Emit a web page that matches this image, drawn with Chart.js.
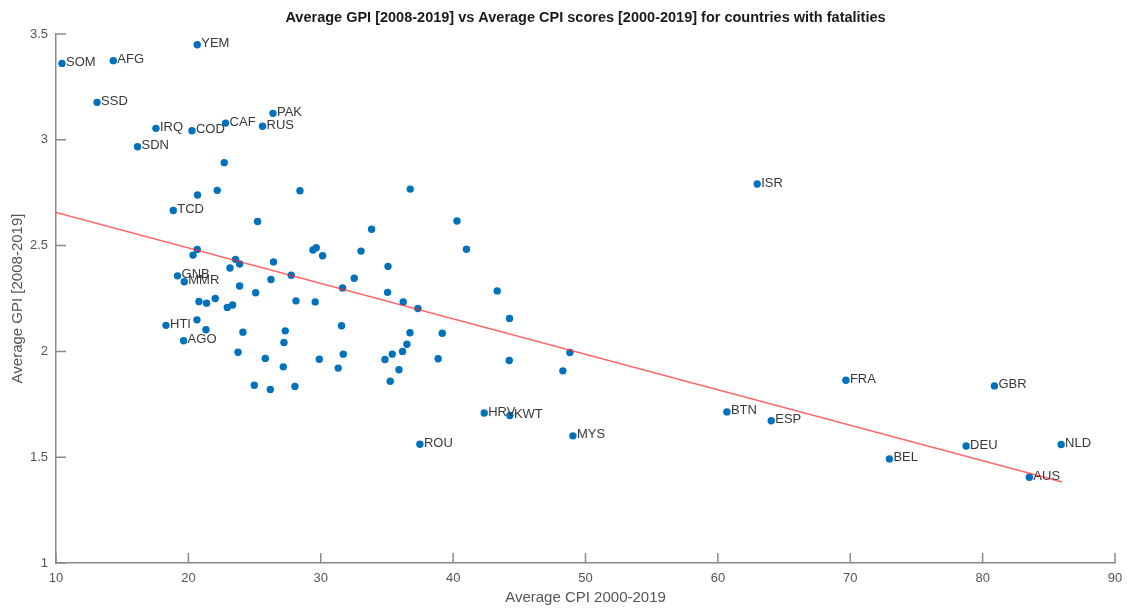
<!DOCTYPE html>
<html>
<head>
<meta charset="utf-8">
<script src="https://cdn.jsdelivr.net/npm/chart.js@4/dist/chart.umd.min.js"></script>
<style>
  html, body { margin: 0; padding: 0; background: #ffffff; }
  #wrap { width: 1127px; height: 608px; }
</style>
</head>
<body>
<div id="wrap"><canvas id="c" width="1127" height="608"></canvas></div>
<script>
// ---- Data ----
const chartTitle = 'Average GPI [2008-2019] vs Average CPI scores [2000-2019] for countries with fatalities';
const xAxisTitle = 'Average CPI 2000-2019';
const yAxisTitle = 'Average GPI [2008-2019]';

const xTickValues = [10, 20, 30, 40, 50, 60, 70, 80, 90];
const xTickLabels = ['10', '20', '30', '40', '50', '60', '70', '80', '90'];
const yTickValues = [1, 1.5, 2, 2.5, 3, 3.5];
const yTickLabels = ['1', '1.5', '2', '2.5', '3', '3.5'];

// Labelled countries
const countryCodes = ['SOM','AFG','YEM','SSD','IRQ','COD','CAF','PAK','RUS','SDN','TCD','GNB','MMR','HTI','AGO',
                      'ISR','ROU','HRV','KWT','MYS','BTN','ESP','FRA','GBR','DEU','BEL','NLD','AUS'];
const labeledCPI = [10.45, 14.33, 20.67, 13.10, 17.55, 20.27, 22.81, 26.39, 25.60, 16.16, 18.86, 19.18, 19.69, 18.31, 19.64,
                    62.97, 37.49, 42.35, 44.29, 49.05, 60.68, 64.03, 69.67, 80.89, 78.75, 72.96, 85.93, 83.53];
const labeledGPI = [3.361, 3.374, 3.449, 3.177, 3.054, 3.043, 3.079, 3.125, 3.064, 2.967, 2.666, 2.357, 2.329, 2.123, 2.050,
                    2.791, 1.561, 1.709, 1.697, 1.601, 1.714, 1.672, 1.864, 1.837, 1.553, 1.492, 1.560, 1.405];

// Unlabelled countries
const otherCPI = [22.71, 22.18, 20.69, 28.43, 36.76, 25.23, 33.84, 20.67, 20.35, 29.41, 29.66, 30.14, 33.04, 23.56, 23.87,
                  26.43, 23.14, 35.08, 26.24, 27.77, 32.53, 23.87, 25.08, 31.65, 35.05, 36.23, 37.34, 20.80, 21.37, 22.03,
                  22.94, 23.34, 28.13, 29.58, 20.65, 21.33, 24.12, 27.32, 27.22, 31.57, 36.74, 39.18, 36.51, 36.18, 35.40,
                  34.85, 38.87, 23.75, 25.81, 29.89, 31.70, 27.17, 31.32, 35.91, 24.98, 26.19, 28.05, 35.25, 40.29, 41.01,
                  43.33, 44.26, 44.24, 48.82, 48.29];
const otherGPI = [2.892, 2.761, 2.739, 2.759, 2.767, 2.614, 2.577, 2.482, 2.455, 2.479, 2.490, 2.452, 2.474, 2.435, 2.413,
                  2.423, 2.394, 2.402, 2.340, 2.360, 2.346, 2.309, 2.277, 2.300, 2.279, 2.234, 2.203, 2.236, 2.228, 2.250,
                  2.208, 2.219, 2.239, 2.234, 2.149, 2.102, 2.091, 2.097, 2.042, 2.121, 2.088, 2.086, 2.034, 2.000, 1.987,
                  1.962, 1.965, 1.996, 1.967, 1.963, 1.987, 1.927, 1.921, 1.913, 1.840, 1.820, 1.834, 1.859, 2.616, 2.483,
                  2.286, 2.156, 1.957, 1.995, 1.908];

// Fitted trend line end points
const trendCPI = [10, 86];
const trendGPI = [2.657, 1.383];

// ---- Build datasets ----
const toXY = (xs, ys) => xs.map((x, i) => ({ x: x, y: ys[i] }));
const FONT = '"Liberation Sans", Arial, Helvetica, sans-serif';
const BLUE = '#0072BD';

const labelPlugin = {
  id: 'pointLabels',
  afterDatasetsDraw(chart) {
    const ctx = chart.ctx;
    const xs = chart.scales.x, ys = chart.scales.y;
    ctx.save();
    ctx.font = '13px ' + FONT;
    ctx.fillStyle = '#383838';
    ctx.textAlign = 'left';
    ctx.textBaseline = 'middle';
    countryCodes.forEach((code, i) => {
      const px = xs.getPixelForValue(labeledCPI[i]);
      const py = ys.getPixelForValue(labeledGPI[i]);
      ctx.fillText(code, px + 4, py - 1);
    });
    ctx.restore();
  }
};

const framePlugin = {
  id: 'frameTicks',
  afterDraw(chart) {
    const ctx = chart.ctx;
    const xs = chart.scales.x, ys = chart.scales.y;
    const a = chart.chartArea;
    ctx.save();
    ctx.strokeStyle = '#8a8a8a';
    ctx.lineWidth = 1.5;
    ctx.beginPath();
    xTickValues.forEach(v => {
      const px = xs.getPixelForValue(v);
      ctx.moveTo(px, a.bottom);
      ctx.lineTo(px, a.bottom - 10);
    });
    yTickValues.forEach(v => {
      const py = ys.getPixelForValue(v);
      ctx.moveTo(a.left, py);
      ctx.lineTo(a.left + 10, py);
    });
    ctx.stroke();
    // title centred over the plot area
    ctx.font = 'bold 14.5px ' + FONT;
    ctx.fillStyle = '#1a1a1a';
    ctx.textAlign = 'center';
    ctx.textBaseline = 'middle';
    ctx.fillText(chartTitle, (a.left + a.right) / 2, 18);
    ctx.restore();
  }
};

new Chart(document.getElementById('c'), {
  type: 'scatter',
  data: {
    datasets: [
      {
        type: 'line',
        data: toXY(trendCPI, trendGPI),
        borderColor: 'rgba(255, 40, 40, 0.7)',
        borderWidth: 1.5,
        pointRadius: 0,
        showLine: true,
        fill: false,
        order: 0
      },
      {
        data: toXY(labeledCPI, labeledGPI),
        backgroundColor: BLUE,
        borderColor: BLUE,
        pointRadius: 3.7,
        borderWidth: 0,
        order: 1
      },
      {
        data: toXY(otherCPI, otherGPI),
        backgroundColor: BLUE,
        borderColor: BLUE,
        pointRadius: 3.7,
        borderWidth: 0,
        order: 1
      }
    ]
  },
  options: {
    responsive: false,
    animation: false,
    devicePixelRatio: 1,
    layout: { padding: { top: 34, right: 12, left: 0, bottom: 0 } },
    plugins: {
      legend: { display: false },
      tooltip: { enabled: false },
      title: { display: false }
    },
    scales: {
      x: {
        type: 'linear',
        min: 10, max: 90,
        afterFit(scale) { scale.height = 45; scale.paddingLeft = 0; scale.paddingRight = 0; },
        afterBuildTicks(scale) { scale.ticks = xTickValues.map(v => ({ value: v })); },
        grid: { display: false, drawTicks: false },
        border: { display: true, color: '#8a8a8a', width: 1.5 },
        ticks: {
          padding: 8,
          color: '#555555',
          font: { family: FONT, size: 13 },
          maxRotation: 0,
          callback: (v) => xTickLabels[xTickValues.indexOf(v)]
        },
        title: {
          display: true, text: xAxisTitle, color: '#555555',
          font: { family: FONT, size: 15 },
          padding: { top: 0, bottom: 1 }
        }
      },
      y: {
        type: 'linear',
        min: 1, max: 3.5,
        afterFit(scale) { scale.width = 56; scale.paddingTop = 0; scale.paddingBottom = 0; },
        afterBuildTicks(scale) { scale.ticks = yTickValues.map(v => ({ value: v })); },
        grid: { display: false, drawTicks: false },
        border: { display: true, color: '#8a8a8a', width: 1.5 },
        ticks: {
          padding: 8,
          color: '#555555',
          font: { family: FONT, size: 13 },
          callback: (v) => yTickLabels[yTickValues.indexOf(v)]
        },
        title: {
          display: true, text: yAxisTitle, color: '#555555',
          font: { family: FONT, size: 15 },
          padding: { top: 9, bottom: 0 }
        }
      }
    }
  },
  plugins: [labelPlugin, framePlugin]
});
</script>
</body>
</html>
